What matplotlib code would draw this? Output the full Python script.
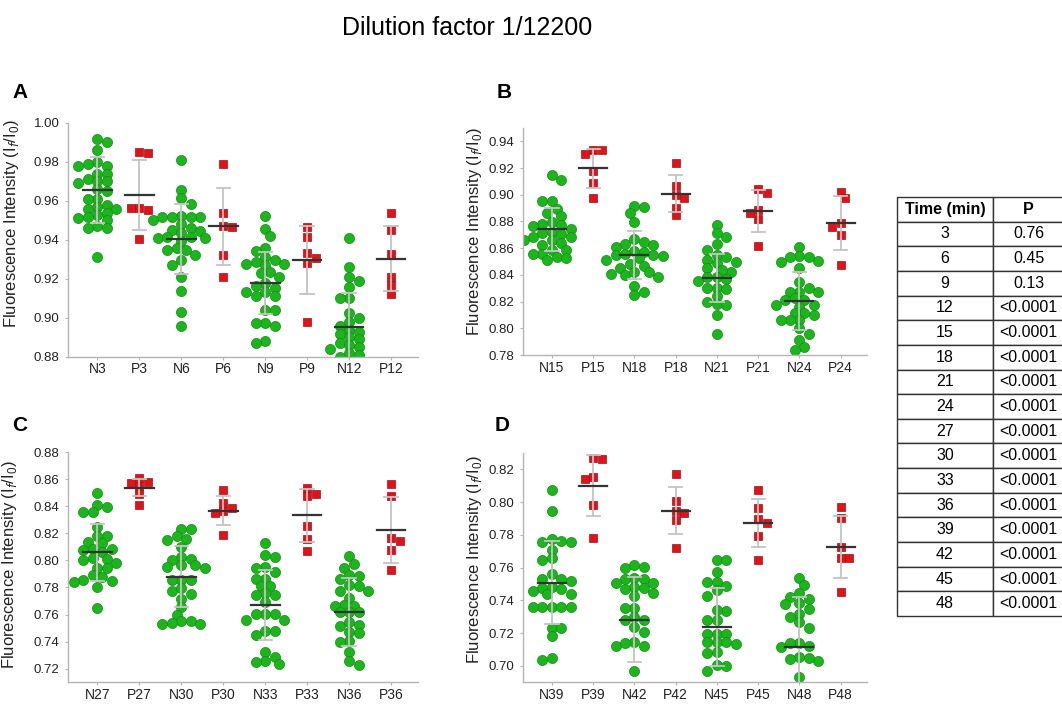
import numpy as np
import matplotlib.pyplot as plt

plt.rcParams['font.family'] = ['Liberation Sans', 'DejaVu Sans']

# ---- panel A ----
a_labels = ['N3', 'P3', 'N6', 'P6', 'N9', 'P9', 'N12', 'P12']
N3 = [0.992, 0.990, 0.986, 0.980, 0.979, 0.978, 0.978, 0.974, 0.974, 0.971, 0.970, 0.970, 0.969, 0.966,
      0.965, 0.961, 0.961, 0.958, 0.957, 0.956, 0.956, 0.954, 0.953, 0.952, 0.951, 0.950, 0.947, 0.946,
      0.946, 0.931]
P3 = [0.9845, 0.985, 0.9565, 0.9555, 0.9565, 0.9405]
N6 = [0.981, 0.9655, 0.9615, 0.9585, 0.9525, 0.952, 0.9515, 0.9515, 0.952, 0.950, 0.948, 0.945, 0.946,
      0.9445, 0.9435, 0.941, 0.9415, 0.9415, 0.941, 0.9395, 0.936, 0.935, 0.935, 0.9325, 0.9295, 0.927,
      0.921, 0.914, 0.903, 0.896]
P6 = [0.979, 0.954, 0.9465, 0.947, 0.9325, 0.921]
N9 = [0.9525, 0.9455, 0.9422, 0.9357, 0.9345, 0.9314, 0.9297, 0.9289, 0.9277, 0.9277, 0.9272, 0.9238,
      0.9229, 0.9212, 0.9178, 0.9166, 0.9152, 0.9135, 0.9135, 0.911, 0.911, 0.9041, 0.9041, 0.8976,
      0.8959, 0.8976, 0.888, 0.887]
P9 = [0.9468, 0.9417, 0.9306, 0.9332, 0.928, 0.8981]
N12 = [0.9409, 0.9263, 0.9212, 0.919, 0.916, 0.910, 0.910, 0.9024, 0.900, 0.898, 0.896, 0.894, 0.893,
       0.892, 0.890, 0.889, 0.887, 0.886, 0.885, 0.884, 0.882, 0.881, 0.880, 0.878, 0.875, 0.872, 0.870]
P12 = [0.954, 0.9451, 0.9327, 0.9209, 0.9169, 0.9122]
a_groups = [N3, P3, N6, P6, N9, P9, N12, P12]
a_mean = [0.9655, 0.9631, 0.9405, 0.947, 0.918, 0.9297, 0.8955, 0.9303]
a_sd = [0.017, 0.018, 0.018, 0.0197, 0.016, 0.0172, 0.0175, 0.0167]

# ---- panel B ----
b_labels = ['N15', 'P15', 'N18', 'P18', 'N21', 'P21', 'N24', 'P24']
N15 = [0.9146, 0.9109, 0.8954, 0.8954, 0.8897, 0.8864, 0.884, 0.8797, 0.878, 0.8772, 0.8765, 0.8745,
       0.8722, 0.8715, 0.8705, 0.8685, 0.8685, 0.866, 0.864, 0.866, 0.8623, 0.8585, 0.8585, 0.856,
       0.8555, 0.8535, 0.8523, 0.8511]
P15 = [0.9333, 0.9333, 0.9308, 0.9178, 0.9091, 0.8979]
N18 = [0.8914, 0.8909, 0.8864, 0.8797, 0.8668, 0.8647, 0.863, 0.8623, 0.861, 0.8578, 0.8573, 0.8548,
       0.8548, 0.854, 0.8555, 0.8511, 0.8523, 0.848, 0.845, 0.8468, 0.8419, 0.84, 0.8386, 0.8406, 0.8423,
       0.8316, 0.8249, 0.8274]
P18 = [0.9238, 0.9066, 0.8996, 0.8976, 0.8904, 0.8847]
N21 = [0.8777, 0.871, 0.8685, 0.863, 0.859, 0.8548, 0.8535, 0.8511, 0.8498, 0.8486, 0.8449, 0.8419,
       0.8436, 0.8386, 0.8386, 0.8369, 0.8354, 0.8304, 0.8294, 0.83, 0.8242, 0.8199, 0.8182, 0.8174,
       0.81, 0.796]
P21 = [0.9046, 0.9014, 0.8864, 0.8884, 0.8815, 0.8618]
N24 = [0.861, 0.8535, 0.8543, 0.8535, 0.8498, 0.8505, 0.8449, 0.8344, 0.8274, 0.8274, 0.8274, 0.8304,
       0.8224, 0.8212, 0.8212, 0.8174, 0.8161, 0.8174, 0.8112, 0.81, 0.8112, 0.8062, 0.8062, 0.8062,
       0.8002, 0.796, 0.791, 0.786, 0.784]
P24 = [0.9021, 0.8979, 0.8792, 0.876, 0.8697, 0.8473]
b_groups = [N15, P15, N18, P18, N21, P21, N24, P24]
b_mean = [0.8742, 0.920, 0.8548, 0.9009, 0.8378, 0.8877, 0.8204, 0.8789]
b_sd = [0.016, 0.0146, 0.018, 0.014, 0.018, 0.0155, 0.0215, 0.02]

# ---- panel C ----
c_labels = ['N27', 'P27', 'N30', 'P30', 'N33', 'P33', 'N36', 'P36']
N27 = [0.85, 0.841, 0.8398, 0.8358, 0.8358, 0.8249, 0.8178, 0.8178, 0.8139, 0.8127, 0.8085, 0.8085,
       0.8075, 0.806, 0.8007, 0.8017, 0.80, 0.798, 0.7944, 0.7944, 0.789, 0.7878, 0.7849, 0.7853, 0.7842,
       0.7805, 0.7646]
P27 = [0.861, 0.8578, 0.8573, 0.8548, 0.8493, 0.8412]
N30 = [0.8232, 0.8232, 0.8183, 0.8158, 0.8153, 0.8098, 0.8025, 0.80, 0.801, 0.7951, 0.7963, 0.7963,
       0.7943, 0.7853, 0.7853, 0.7853, 0.7776, 0.7751, 0.7793, 0.7714, 0.7653, 0.76, 0.7554, 0.7554,
       0.7529, 0.7537, 0.7529]
P30 = [0.8519, 0.8427, 0.8366, 0.8349, 0.8387, 0.8188]
N33 = [0.8127, 0.8025, 0.8037, 0.7951, 0.7946, 0.7912, 0.7866, 0.7866, 0.7812, 0.7812, 0.7756, 0.7744,
       0.7744, 0.7695, 0.7605, 0.7605, 0.7605, 0.7561, 0.7561, 0.7476, 0.7476, 0.7447, 0.7324, 0.726,
       0.7286, 0.7232, 0.725]
P33 = [0.8493, 0.8476, 0.8532, 0.8256, 0.8158, 0.8068]
N36 = [0.8032, 0.7976, 0.7944, 0.789, 0.7866, 0.7886, 0.7817, 0.7773, 0.7812, 0.7776, 0.7719, 0.7671,
       0.7666, 0.7666, 0.762, 0.762, 0.7615, 0.7524, 0.7512, 0.7544, 0.7471, 0.7463, 0.7407, 0.7397,
       0.7324, 0.726, 0.7227]
P36 = [0.8561, 0.8476, 0.8146, 0.8166, 0.8073, 0.7927]
c_groups = [N27, P27, N30, P30, N33, P33, N36, P36]
c_mean = [0.8061, 0.8537, 0.7878, 0.8368, 0.7671, 0.8334, 0.7617, 0.8224]
c_sd = [0.021, 0.0062, 0.0226, 0.011, 0.026, 0.0195, 0.025, 0.0244]

# ---- panel D ----
d_labels = ['N39', 'P39', 'N42', 'P42', 'N45', 'P45', 'N48', 'P48']
N39 = [0.8074, 0.7949, 0.7758, 0.7773, 0.7758, 0.7765, 0.7708, 0.7658, 0.7648, 0.7564, 0.7528, 0.7518,
       0.7528, 0.7484, 0.7468, 0.7478, 0.7457, 0.744, 0.744, 0.7362, 0.7362, 0.7362, 0.7362, 0.7362,
       0.7231, 0.7231, 0.7183, 0.7036, 0.7046]
P39 = [0.827, 0.8266, 0.814, 0.8154, 0.7983, 0.7779]
N42 = [0.7604, 0.7598, 0.7614, 0.7538, 0.7532, 0.7532, 0.7474, 0.7484, 0.7508, 0.7508, 0.7468, 0.7448,
       0.7427, 0.7351, 0.7351, 0.7301, 0.7283, 0.7283, 0.7207, 0.7237, 0.7143, 0.712, 0.712, 0.7137, 0.6966]
P42 = [0.817, 0.8005, 0.7935, 0.7949, 0.7893, 0.7722]
N45 = [0.7644, 0.7644, 0.7572, 0.7512, 0.7512, 0.7488, 0.7463, 0.7427, 0.7337, 0.7343, 0.7277, 0.7281,
       0.7197, 0.7197, 0.7197, 0.7147, 0.7131, 0.7147, 0.7147, 0.7077, 0.7087, 0.7006, 0.6996, 0.697]
P45 = [0.8075, 0.7963, 0.7873, 0.7899, 0.7794, 0.7648]
N48 = [0.7538, 0.7492, 0.7407, 0.7421, 0.7442, 0.7383, 0.738, 0.735, 0.7317, 0.7297, 0.7267, 0.7231,
       0.7137, 0.7117, 0.7137, 0.712, 0.7051, 0.704, 0.703, 0.7046, 0.6933]
P48 = [0.7973, 0.7903, 0.7728, 0.7658, 0.7658, 0.7451]
d_groups = [N39, P39, N42, P42, N45, P45, N48, P48]
d_mean = [0.7508, 0.81, 0.7281, 0.7947, 0.7237, 0.7873, 0.7113, 0.7728]
d_sd = [0.0255, 0.0187, 0.026, 0.0143, 0.024, 0.0146, 0.031, 0.019]

# ---- table ----
times = ['3', '6', '9', '12', '15', '18', '21', '24', '27', '30', '33', '36', '39', '42', '45', '48']
pvals = ['0.76', '0.45', '0.13'] + ['<0.0001'] * 13

GREEN = '#1db51d'
GREEN_EDGE = '#178a17'
RED = '#e0131b'
RED_EDGE = '#9a1414'


def swarm(vals, sx, sy, diam):
    # simple beeswarm in pixel space, alternating sides to stay balanced
    vals = np.asarray(vals)
    placed = []
    offs = np.zeros(len(vals))
    step = diam * 0.45
    min_d = diam * 0.74
    for i in np.argsort(-vals):
        y = vals[i] * sy
        right = sum(1 for px, _ in placed if px > 0)
        left = sum(1 for px, _ in placed if px < 0)
        sign = 1 if right <= left else -1
        cands = [0.0]
        for k in range(1, 25):
            cands += [sign * k * step, -sign * k * step]
        for c in cands:
            if all((c - px) ** 2 + (y - py) ** 2 >= min_d ** 2 for px, py in placed):
                break
        placed.append((c, y))
        offs[i] = c / sx
    return offs


fig = plt.figure(figsize=(10.62, 7.04), dpi=100)


def panel(rect, labels, groups, means, sds, ylim, yticks, lab_xy):
    ax = fig.add_axes(rect)
    ax.set_xlim(-0.7, 7.64)
    ax.set_ylim(*ylim)
    p0 = ax.transData.transform([(0, 0)])[0]
    p1 = ax.transData.transform([(1, 1)])[0]
    sx, sy = p1[0] - p0[0], p1[1] - p0[1]
    for i, (lab, vals) in enumerate(zip(labels, groups)):
        is_n = lab.startswith('N')
        offs = swarm(vals, sx, sy, 10.5 if is_n else 9.5)
        if is_n:
            ax.plot(i + offs, vals, 'o', ms=7.3, mfc=GREEN, mec=GREEN_EDGE, mew=0.5, zorder=2)
        else:
            ax.plot(i + offs, vals, 's', ms=6.4, mfc=RED, mec=RED_EDGE, mew=0.5, zorder=2)
        m, s = means[i], sds[i]
        ax.plot([i, i], [m - s, m + s], color='#c4c4c4', lw=1.3, zorder=3)
        for yy in (m - s, m + s):
            ax.plot([i - 0.16, i + 0.16], [yy, yy], color='#c4c4c4', lw=1.3, zorder=3)
        ax.plot([i - 0.34, i + 0.34], [m, m], color='#333333', lw=1.6, zorder=4)
    ax.set_xticks(range(len(labels)))
    ax.set_xticklabels(labels, fontsize=10)
    ax.set_yticks(yticks)
    ax.set_yticklabels(['%.2f' % t for t in yticks], fontsize=9.5)
    for sp in ('top', 'right'):
        ax.spines[sp].set_visible(False)
    for sp in ('left', 'bottom'):
        ax.spines[sp].set_color('#b5b5b5')
        ax.spines[sp].set_linewidth(1.0)
    ax.tick_params(colors='#b5b5b5', labelcolor='#222222', length=2.5, width=0.8)
    ax.tick_params(axis='x', pad=1.5)
    ax.set_ylabel(r'Fluorescence Intensity (I$_\mathit{f}$/I$_\mathregular{0}$)', fontsize=12,
                  color='#222222')
    ax.yaxis.set_label_coords(*lab_xy)
    return ax


panel([0.064, 0.493, 0.3296, 0.3324], a_labels, a_groups, a_mean, a_sd,
      (0.88, 1.00), np.arange(0.88, 1.001, 0.02), (-0.133, 0.57))
panel([0.4925, 0.4957, 0.324, 0.3225], b_labels, b_groups, b_mean, b_sd,
      (0.78, 0.95), np.arange(0.78, 0.941, 0.02), (-0.112, 0.545))
panel([0.064, 0.031, 0.3296, 0.3268], c_labels, c_groups, c_mean, c_sd,
      (0.71, 0.88), np.arange(0.72, 0.881, 0.02), (-0.14, 0.51))
panel([0.4925, 0.031, 0.324, 0.3254], d_labels, d_groups, d_mean, d_sd,
      (0.69, 0.83), np.arange(0.70, 0.821, 0.02), (-0.112, 0.535))

fig.text(0.44, 0.96, 'Dilution factor 1/12200', ha='center', va='center', fontsize=18)
for letter, x, y in [('A', 0.0115, 0.868), ('B', 0.468, 0.868), ('C', 0.0115, 0.396), ('D', 0.466, 0.396)]:
    fig.text(x, y, letter, fontsize=15, fontweight='bold', ha='left', va='center')

# p-value table
tax = fig.add_axes([897 / 1062, 1 - 616 / 704, 167 / 1062, 419 / 704])
tax.axis('off')
rows = [['Time (min)', 'P']] + [[t, p] for t, p in zip(times, pvals)]
tbl = tax.table(cellText=rows, bbox=[0, 0, 1, 1], colWidths=[96 / 167, 71 / 167], cellLoc='center')
tbl.auto_set_font_size(False)
for (r, c), cell in tbl.get_celld().items():
    cell.set_linewidth(1.0)
    cell.set_edgecolor('#333333')
    cell.get_text().set_fontsize(11.5)
    cell.get_text().set_clip_on(False)
    if r == 0:
        cell.get_text().set_fontweight('bold')

fig.savefig('out.png', dpi=100)
